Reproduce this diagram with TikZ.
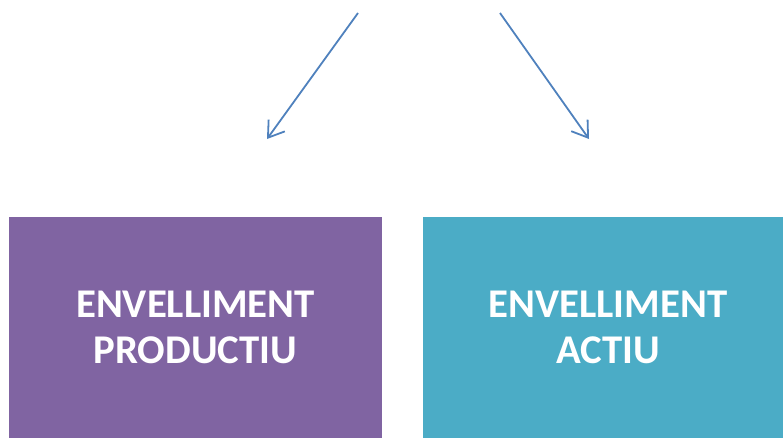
\documentclass[tikz,border=0pt]{standalone}
\usepackage{fontspec}
\setmainfont{Carlito}
\usetikzlibrary{arrows.meta}
\definecolor{cpurple}{HTML}{8064A2}
\definecolor{cteal}{HTML}{4BACC6}
\definecolor{carrow}{HTML}{4F81BD}
\tikzset{
  box/.style={draw=none, inner sep=0pt, outer sep=0pt, text=white,
    font=\fontsize{40.8pt}{46pt}\selectfont\bfseries, align=center},
  arr/.style={draw=carrow, line width=1.8pt, -{Straight Barb[length=15pt,width=20pt,line width=1.8pt]}}
}
\begin{document}
\begin{tikzpicture}[x=1pt,y=-1pt]
\useasboundingbox (0,0) rectangle (783,437);
\clip (0,0) rectangle (783,437);
\fill[cpurple] (9,217) rectangle (382,440);
\fill[cteal] (423,217) rectangle (793,440);
\node[box] (prod) at (195.5,327) {ENVELLIMENT\\PRODUCTIU};
\node[box] (act) at (608,327) {ENVELLIMENT\\ACTIU};
\coordinate (s1) at (358,13);
\coordinate (e1) at (267,139);
\coordinate (s2) at (500,13);
\coordinate (e2) at (589,139);
\draw[arr] (s1) -- (e1);
\draw[arr] (s2) -- (e2);
\end{tikzpicture}
\end{document}
